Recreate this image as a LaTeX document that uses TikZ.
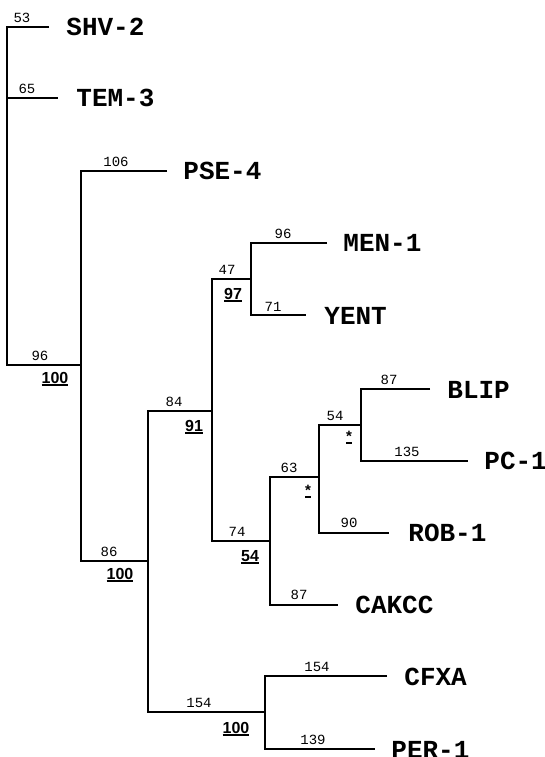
\documentclass[tikz,border=0pt]{standalone}
\usepackage{fontspec}
\newfontfamily\labfont{Liberation Mono}
\newfontfamily\bsfont{Liberation Sans}
\newcommand\myul[1]{\setbox0\hbox{#1}\rlap{\rule[-2.5pt]{\wd0}{1.3pt}}\box0}
\begin{document}
\begin{tikzpicture}[x=1pt,y=-1pt,line width=2.8pt,
  leaf/.style={anchor=west,inner sep=0pt,font=\labfont\bfseries\fontsize{26pt}{26pt}\selectfont},
  blen/.style={inner sep=0pt,font=\labfont\fontsize{14pt}{14pt}\selectfont},
  boot/.style={inner sep=0pt,anchor=base,font=\bsfont\bfseries\fontsize{16pt}{16pt}\selectfont},
  starlab/.style={inner sep=0pt,anchor=base,font=\bsfont\bfseries\fontsize{15pt}{15pt}\selectfont}]
\useasboundingbox (0,0) rectangle (545,757);
% internal nodes
\coordinate (R) at (7,196);
\coordinate (A) at (81,365);
\coordinate (B) at (148,561);
\coordinate (C) at (212,411);
\coordinate (D) at (251,279);
\coordinate (E) at (270,541);
\coordinate (F) at (319,477);
\coordinate (G) at (361,425);
\coordinate (H) at (265,712);
% tips
\coordinate (tSHV) at (49,27);
\coordinate (tTEM) at (58,98);
\coordinate (tPSE) at (167,171);
\coordinate (tMEN) at (327,243);
\coordinate (tYEN) at (306,315);
\coordinate (tBLI) at (430,389);
\coordinate (tPC) at (468,461);
\coordinate (tROB) at (389,533);
\coordinate (tCAK) at (338,605);
\coordinate (tCFX) at (387,676);
\coordinate (tPER) at (375,749);
% branches
\draw (tSHV) -| (R |- A) -- (A);
\draw (R |- tTEM) -- (tTEM);
\draw (tPSE) -| (A |- B) -- (B);
\draw (C) -| (B |- H) -- (H);
\draw (D) -| (C |- E) -- (E);
\draw (tMEN) -| (D |- tYEN) -- (tYEN);
\draw (F) -| (E |- tCAK) -- (tCAK);
\draw (G) -| (F |- tROB) -- (tROB);
\draw (tBLI) -| (G |- tPC) -- (tPC);
\draw (tCFX) -| (H |- tPER) -- (tPER);
% leaf labels
\node[leaf] (lSHV) at (65,27) {SHV-2};
\node[leaf] (lTEM) at (75,98) {TEM-3};
\node[leaf] (lPSE) at (182,171) {PSE-4};
\node[leaf] (lMEN) at (342,243) {MEN-1};
\node[leaf] (lYEN) at (323,316) {YENT};
\node[leaf] (lBLI) at (446,390) {BLIP};
\node[leaf] (lPC) at (483,461) {PC-1};
\node[leaf] (lROB) at (407,533) {ROB-1};
\node[leaf] (lCAK) at (354,605) {CAKCC};
\node[leaf] (lCFX) at (403,677) {CFXA};
\node[leaf] (lPER) at (390,750) {PER-1};
% branch lengths
\node[blen] (n53) at (22,18) {53};
\node[blen] (n65) at (27,89) {65};
\node[blen] (n106) at (116,162) {106};
\node[blen] (n96a) at (40,356) {96};
\node[blen] (n47) at (227,270) {47};
\node[blen] (n96b) at (283,234) {96};
\node[blen] (n71) at (273,307) {71};
\node[blen] (n84) at (174,402) {84};
\node[blen] (n74) at (237,532) {74};
\node[blen] (n63) at (289,468) {63};
\node[blen] (n54) at (335,416) {54};
\node[blen] (n87a) at (389,380) {87};
\node[blen] (n135) at (407,452) {135};
\node[blen] (n90) at (349,523) {90};
\node[blen] (n87b) at (299,595) {87};
\node[blen] (n86) at (109,552) {86};
\node[blen] (n154a) at (199,703) {154};
\node[blen] (n154b) at (317,667) {154};
\node[blen] (n139) at (313,740) {139};
% bootstrap values
\node[boot] (bA) at (55,383) {\myul{100}};
\node[boot] (bD) at (233,299) {\myul{97}};
\node[boot] (bC) at (194,431) {\myul{91}};
\node[boot] (bE) at (250,561) {\myul{54}};
\node[boot] (bB) at (120,579) {\myul{100}};
\node[boot] (bH) at (236,733) {\myul{100}};
\node[starlab] (sG) at (349,441) {\myul{*}};
\node[starlab] (sF) at (308,495) {\myul{*}};
\end{tikzpicture}
\end{document}
